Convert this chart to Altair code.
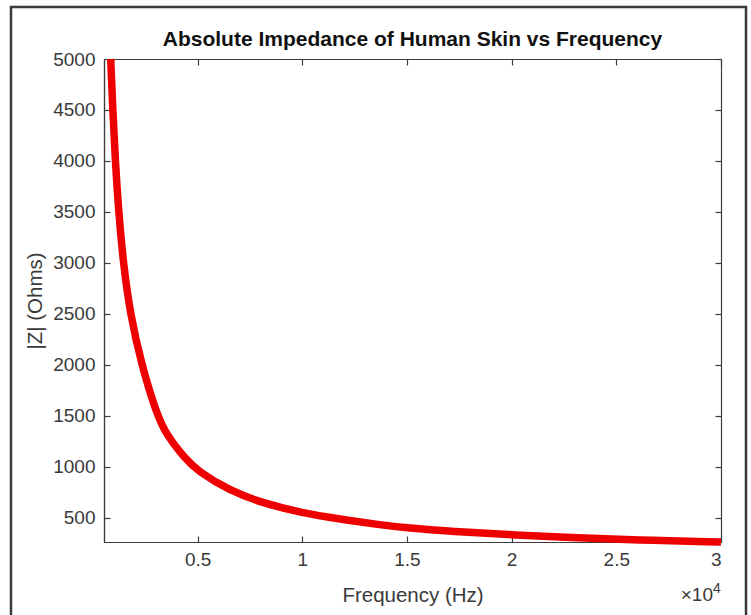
import altair as alt
import pandas as pd

# Measured |Z| of skin across frequency
freq_hz = [850, 950, 1070, 1230, 1450, 1780, 2323, 3040, 3518, 4426, 5000,
           6530, 8110, 10000, 11790, 13700, 15000, 17190, 20000, 22780,
           25980, 30000]
impedance_ohm = [5000, 4500, 4000, 3500, 3000, 2500, 2000, 1520, 1310, 1075,
                 960, 765, 644, 546, 487, 431, 399, 366, 333, 305, 281, 262]

x_ticks = [5000, 10000, 15000, 20000, 25000, 30000]
y_ticks = [500, 1000, 1500, 2000, 2500, 3000, 3500, 4000, 4500, 5000]
x_domain = [530, 30000]
y_domain = [262, 5000]

title_text = "Absolute Impedance of Human Skin vs Frequency"
x_title = "Frequency (Hz)"
y_title = "|Z| (Ohms)"

W, H = 617, 483
FONT = "Liberation Sans"
AXIS_GREY = "#3c3c3c"
LABEL_GREY = "#3a3a3a"

df = pd.DataFrame({"f": freq_hz, "z": impedance_ohm})

xs = alt.Scale(domain=x_domain, nice=False, zero=False)
ys = alt.Scale(domain=y_domain, nice=False, zero=False)

common = dict(grid=False, domainColor=AXIS_GREY, domainWidth=1.2,
              tickColor=AXIS_GREY, tickWidth=1.2, tickSize=6)

# Main curve with labelled bottom / left axes (no outward ticks)
line = alt.Chart(df).mark_line(
    color="#ee0000", strokeWidth=7.5, interpolate="basis", clip=False
).encode(
    x=alt.X("f:Q", scale=xs, axis=alt.Axis(
        orient="bottom", values=x_ticks, ticks=False, tickSize=0,
        labelExpr="datum.value / 10000", labelFont=FONT, labelFontSize=19,
        labelColor=LABEL_GREY, labelPadding=8, labelBaseline="top",
        title=x_title, titleFont=FONT, titleFontSize=20.5, titleFontWeight="normal",
        titleColor=LABEL_GREY, titleX=W / 2, titleY=53, titleBaseline="middle",
        titleAlign="center", grid=False, domainColor=AXIS_GREY, domainWidth=1.2)),
    y=alt.Y("z:Q", scale=ys, axis=alt.Axis(
        orient="left", values=y_ticks, ticks=False, tickSize=0, format="d",
        labelFont=FONT, labelFontSize=19, labelColor=LABEL_GREY, labelPadding=9,
        title=y_title, titleFont=FONT, titleFontSize=20.5, titleFontWeight="normal",
        titleColor=LABEL_GREY, titleX=-69, titleY=H / 2, titleAngle=270,
        titleAlign="center", titleBaseline="middle",
        grid=False, domainColor=AXIS_GREY, domainWidth=1.2)),
)

# Inward ticks on bottom and left edges
ticks_a = alt.Chart(df).mark_line(opacity=0).encode(
    x=alt.X("f:Q", scale=xs, axis=alt.Axis(
        orient="top", offset=-H, values=x_ticks, labels=False, title=None,
        **common)),
    y=alt.Y("z:Q", scale=ys, axis=alt.Axis(
        orient="right", offset=-W, values=y_ticks, labels=False, title=None,
        **common)),
)

# Inward ticks and box lines on top and right edges
ticks_b = alt.Chart(df).mark_line(opacity=0).encode(
    x=alt.X("f:Q", scale=xs, axis=alt.Axis(
        orient="bottom", offset=-H, values=x_ticks, labels=False, title=None,
        **common)),
    y=alt.Y("z:Q", scale=ys, axis=alt.Axis(
        orient="left", offset=-W, values=y_ticks, labels=False, title=None,
        **common)),
)

# Chart title above the axes box
title = alt.Chart(pd.DataFrame({"t": [title_text]})).mark_text(
    font=FONT, fontSize=21, fontWeight="bold", color="#111111",
    align="center", baseline="alphabetic"
).encode(x=alt.value(W / 2), y=alt.value(-13), text="t:N")

# Exponent note under the x axis
exp_base = alt.Chart(pd.DataFrame({"t": ["\u00d710"]})).mark_text(
    font=FONT, fontSize=19, color=LABEL_GREY, align="right", baseline="middle"
).encode(x=alt.value(W - 8), y=alt.value(H + 53), text="t:N")
exp_pow = alt.Chart(pd.DataFrame({"t": ["4"]})).mark_text(
    font=FONT, fontSize=14, color=LABEL_GREY, align="left", baseline="middle"
).encode(x=alt.value(W - 8), y=alt.value(H + 47), text="t:N")

# Figure frame
frame = alt.Chart(pd.DataFrame({"k": [0]})).mark_rect(
    fill=None, stroke="#3a3a3a", strokeWidth=2.5, clip=False
).encode(x=alt.value(-93), x2=alt.value(642), y=alt.value(-52), y2=alt.value(575))

chart = alt.layer(
    frame, line, ticks_a, ticks_b, title, exp_base, exp_pow
).resolve_axis(x="independent", y="independent").properties(
    width=W, height=H,
    padding={"left": 104, "top": 59, "right": 30, "bottom": 73},
    autosize=alt.AutoSizeParams(type="none"),
).configure_view(stroke=None).configure(background="white")

chart.save("out.html", embed_options={"renderer": "svg", "actions": False})
